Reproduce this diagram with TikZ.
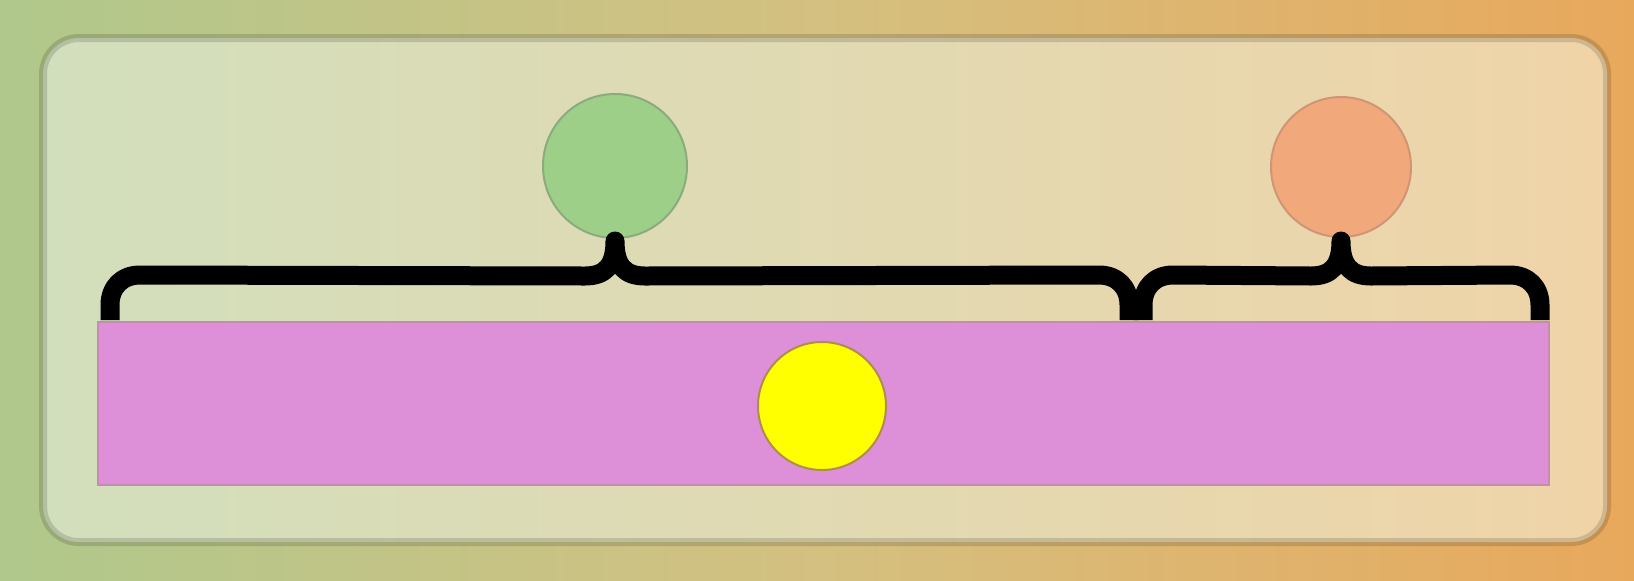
\documentclass[tikz,border=0pt]{standalone}
\usetikzlibrary{calc}
\definecolor{bgL}{RGB}{176,200,140}
\definecolor{bgM}{RGB}{212,192,128}
\definecolor{bgR}{RGB}{232,168,92}
\definecolor{inL}{RGB}{210,223,188}
\definecolor{inR}{RGB}{240,212,168}
\definecolor{pinkF}{RGB}{221,143,216}
\definecolor{pinkD}{RGB}{196,140,180}
\definecolor{greenF}{RGB}{158,207,137}
\definecolor{greenD}{RGB}{138,172,124}
\definecolor{orangeF}{RGB}{241,168,122}
\definecolor{orangeD}{RGB}{206,150,118}
\definecolor{yellowF}{RGB}{255,255,0}
\definecolor{yellowD}{RGB}{176,140,80}
\tikzset{
  ball/.style={circle, inner sep=0pt, line width=1pt},
  bracepath/.style={line width=9.5pt, draw=black, line cap=butt, line join=round},
}
\begin{document}
\begin{tikzpicture}[x=0.5pt,y=-0.5pt]
\useasboundingbox (0,0) rectangle (1634,580);
% background gradient
\shade[left color=bgL, right color=bgR, middle color=bgM] (0,0) rectangle (1634,580);
% inner rounded panel
\shade[left color=inL, right color=inR, rounded corners=18pt] (43,38) rectangle (1607,542);
\draw[black, draw opacity=0.14, line width=4pt, rounded corners=18pt] (43,38) rectangle (1607,542);
% pink bar
\node[draw=pinkD, fill=pinkF, line width=1pt, inner sep=0pt, minimum width=725.5pt, minimum height=81.5pt] (bar) at (823.5,403.5) {};
% circles
\node[ball, fill=greenF, draw=greenD, minimum size=72pt] (g) at (615,166) {};
\node[ball, fill=orangeF, draw=orangeD, minimum size=70pt] (o) at (1341,167) {};
\node[ball, fill=yellowF, draw=yellowD, minimum size=64pt] (y) at (822,406) {};
% braces
\coordinate (gt) at ($(g.south)+(0,2)$);
\coordinate (ot) at ($(o.south)+(0,3)$);
\draw[bracepath] (110,320) -- (110,305) .. controls (110,287) and (122,275) .. (140,275)
  -- ($(gt)+(-30,35)$) .. controls ($(gt)+(-10,35)$) and ($(gt)+(0,25)$) .. (gt)
  .. controls ($(gt)+(0,25)$) and ($(gt)+(10,35)$) .. ($(gt)+(30,35)$)
  -- (1099,275) .. controls (1117,275) and (1129,287) .. (1129,305) -- (1129,320);
\draw[bracepath] (1143,320) -- (1143,305) .. controls (1143,287) and (1155,275) .. (1173,275)
  -- ($(ot)+(-30,35)$) .. controls ($(ot)+(-10,35)$) and ($(ot)+(0,25)$) .. (ot)
  .. controls ($(ot)+(0,25)$) and ($(ot)+(10,35)$) .. ($(ot)+(30,35)$)
  -- (1510,275) .. controls (1528,275) and (1540,287) .. (1540,305) -- (1540,320);
\end{tikzpicture}
\end{document}
